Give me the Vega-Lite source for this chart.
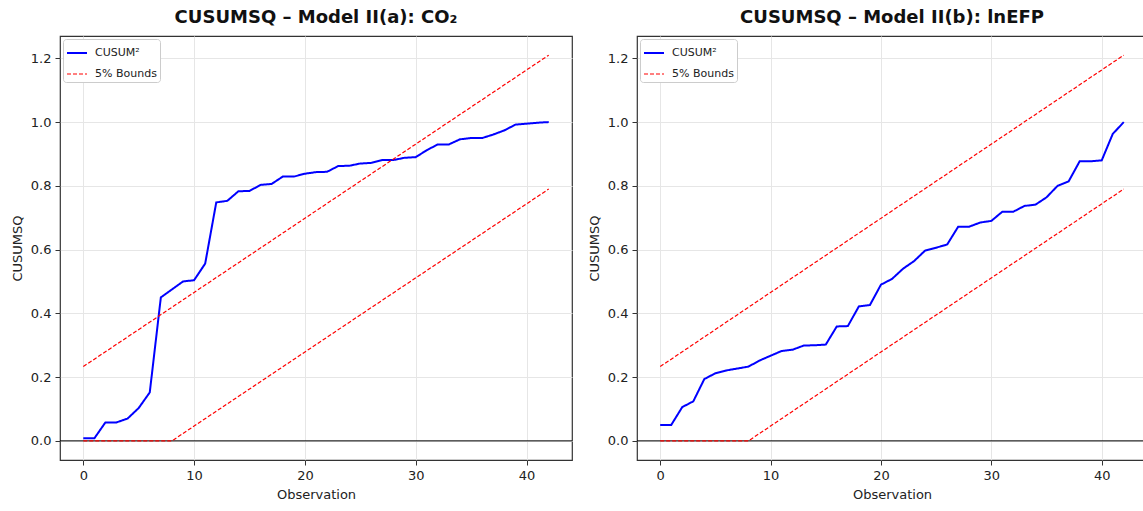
{
  "$schema": "https://vega.github.io/schema/vega-lite/v6.json",
  "background": "white",
  "padding": {"left": 10, "top": 8, "right": 0, "bottom": 0},
  "spacing": 13,
  "config": {
    "font": "DejaVu Sans",
    "view": {"stroke": "#333333", "strokeWidth": 1.2},
    "axis": {
      "labelFont": "DejaVu Sans", "labelFontSize": 13, "labelColor": "#222222",
      "titleFont": "DejaVu Sans", "titleFontSize": 13, "titleFontWeight": "normal", "titleColor": "#222222",
      "gridColor": "#e6e6e6", "gridWidth": 1, "domain": false,
      "tickColor": "#333333", "tickSize": 5, "labelPadding": 4, "titlePadding": 6
    },
    "title": {"font": "DejaVu Sans", "fontSize": 18, "fontWeight": "bold", "color": "#111111", "anchor": "middle", "offset": 9},
    "legend": {
      "orient": "top-left", "offset": 3, "title": null,
      "labelFont": "DejaVu Sans", "labelFontSize": 11, "labelColor": "#222222",
      "fillColor": "white", "strokeColor": "#cccccc", "cornerRadius": 3, "padding": 3,
      "symbolType": "stroke", "symbolSize": 400, "rowPadding": 5, "labelOffset": 7
    }
  },
  "datasets": {
    "a": [
      {"series": "CUSUM²", "part": "c", "x": 0, "y": 0.008},
      {"series": "CUSUM²", "part": "c", "x": 1, "y": 0.008},
      {"series": "CUSUM²", "part": "c", "x": 2, "y": 0.058},
      {"series": "CUSUM²", "part": "c", "x": 3, "y": 0.058},
      {"series": "CUSUM²", "part": "c", "x": 4, "y": 0.070},
      {"series": "CUSUM²", "part": "c", "x": 5, "y": 0.103},
      {"series": "CUSUM²", "part": "c", "x": 6, "y": 0.152},
      {"series": "CUSUM²", "part": "c", "x": 7, "y": 0.450},
      {"series": "CUSUM²", "part": "c", "x": 8, "y": 0.475},
      {"series": "CUSUM²", "part": "c", "x": 9, "y": 0.500},
      {"series": "CUSUM²", "part": "c", "x": 10, "y": 0.504},
      {"series": "CUSUM²", "part": "c", "x": 11, "y": 0.556},
      {"series": "CUSUM²", "part": "c", "x": 12, "y": 0.748},
      {"series": "CUSUM²", "part": "c", "x": 13, "y": 0.753},
      {"series": "CUSUM²", "part": "c", "x": 14, "y": 0.783},
      {"series": "CUSUM²", "part": "c", "x": 15, "y": 0.784},
      {"series": "CUSUM²", "part": "c", "x": 16, "y": 0.803},
      {"series": "CUSUM²", "part": "c", "x": 17, "y": 0.806},
      {"series": "CUSUM²", "part": "c", "x": 18, "y": 0.829},
      {"series": "CUSUM²", "part": "c", "x": 19, "y": 0.829},
      {"series": "CUSUM²", "part": "c", "x": 20, "y": 0.838},
      {"series": "CUSUM²", "part": "c", "x": 21, "y": 0.843},
      {"series": "CUSUM²", "part": "c", "x": 22, "y": 0.844},
      {"series": "CUSUM²", "part": "c", "x": 23, "y": 0.862},
      {"series": "CUSUM²", "part": "c", "x": 24, "y": 0.863},
      {"series": "CUSUM²", "part": "c", "x": 25, "y": 0.870},
      {"series": "CUSUM²", "part": "c", "x": 26, "y": 0.872},
      {"series": "CUSUM²", "part": "c", "x": 27, "y": 0.881},
      {"series": "CUSUM²", "part": "c", "x": 28, "y": 0.881},
      {"series": "CUSUM²", "part": "c", "x": 29, "y": 0.888},
      {"series": "CUSUM²", "part": "c", "x": 30, "y": 0.890},
      {"series": "CUSUM²", "part": "c", "x": 31, "y": 0.912},
      {"series": "CUSUM²", "part": "c", "x": 32, "y": 0.930},
      {"series": "CUSUM²", "part": "c", "x": 33, "y": 0.930},
      {"series": "CUSUM²", "part": "c", "x": 34, "y": 0.946},
      {"series": "CUSUM²", "part": "c", "x": 35, "y": 0.950},
      {"series": "CUSUM²", "part": "c", "x": 36, "y": 0.950},
      {"series": "CUSUM²", "part": "c", "x": 37, "y": 0.961},
      {"series": "CUSUM²", "part": "c", "x": 38, "y": 0.974},
      {"series": "CUSUM²", "part": "c", "x": 39, "y": 0.992},
      {"series": "CUSUM²", "part": "c", "x": 40, "y": 0.995},
      {"series": "CUSUM²", "part": "c", "x": 41, "y": 0.998},
      {"series": "CUSUM²", "part": "c", "x": 42, "y": 1.000},
      {"series": "5% Bounds", "part": "upper", "x": 0, "y": 0.233},
      {"series": "5% Bounds", "part": "upper", "x": 42, "y": 1.210},
      {"series": "5% Bounds", "part": "lower", "x": 0, "y": 0.0},
      {"series": "5% Bounds", "part": "lower", "x": 8, "y": 0.0},
      {"series": "5% Bounds", "part": "lower", "x": 42, "y": 0.790}
    ],
    "b": [
      {"series": "CUSUM²", "part": "c", "x": 0, "y": 0.050},
      {"series": "CUSUM²", "part": "c", "x": 1, "y": 0.050},
      {"series": "CUSUM²", "part": "c", "x": 2, "y": 0.106},
      {"series": "CUSUM²", "part": "c", "x": 3, "y": 0.124},
      {"series": "CUSUM²", "part": "c", "x": 4, "y": 0.194},
      {"series": "CUSUM²", "part": "c", "x": 5, "y": 0.212},
      {"series": "CUSUM²", "part": "c", "x": 6, "y": 0.221},
      {"series": "CUSUM²", "part": "c", "x": 7, "y": 0.227},
      {"series": "CUSUM²", "part": "c", "x": 8, "y": 0.233},
      {"series": "CUSUM²", "part": "c", "x": 9, "y": 0.252},
      {"series": "CUSUM²", "part": "c", "x": 10, "y": 0.267},
      {"series": "CUSUM²", "part": "c", "x": 11, "y": 0.282},
      {"series": "CUSUM²", "part": "c", "x": 12, "y": 0.286},
      {"series": "CUSUM²", "part": "c", "x": 13, "y": 0.299},
      {"series": "CUSUM²", "part": "c", "x": 14, "y": 0.300},
      {"series": "CUSUM²", "part": "c", "x": 15, "y": 0.302},
      {"series": "CUSUM²", "part": "c", "x": 16, "y": 0.359},
      {"series": "CUSUM²", "part": "c", "x": 17, "y": 0.360},
      {"series": "CUSUM²", "part": "c", "x": 18, "y": 0.422},
      {"series": "CUSUM²", "part": "c", "x": 19, "y": 0.426},
      {"series": "CUSUM²", "part": "c", "x": 20, "y": 0.490},
      {"series": "CUSUM²", "part": "c", "x": 21, "y": 0.508},
      {"series": "CUSUM²", "part": "c", "x": 22, "y": 0.540},
      {"series": "CUSUM²", "part": "c", "x": 23, "y": 0.564},
      {"series": "CUSUM²", "part": "c", "x": 24, "y": 0.597},
      {"series": "CUSUM²", "part": "c", "x": 25, "y": 0.606},
      {"series": "CUSUM²", "part": "c", "x": 26, "y": 0.616},
      {"series": "CUSUM²", "part": "c", "x": 27, "y": 0.672},
      {"series": "CUSUM²", "part": "c", "x": 28, "y": 0.672},
      {"series": "CUSUM²", "part": "c", "x": 29, "y": 0.685},
      {"series": "CUSUM²", "part": "c", "x": 30, "y": 0.690},
      {"series": "CUSUM²", "part": "c", "x": 31, "y": 0.719},
      {"series": "CUSUM²", "part": "c", "x": 32, "y": 0.719},
      {"series": "CUSUM²", "part": "c", "x": 33, "y": 0.737},
      {"series": "CUSUM²", "part": "c", "x": 34, "y": 0.741},
      {"series": "CUSUM²", "part": "c", "x": 35, "y": 0.764},
      {"series": "CUSUM²", "part": "c", "x": 36, "y": 0.800},
      {"series": "CUSUM²", "part": "c", "x": 37, "y": 0.814},
      {"series": "CUSUM²", "part": "c", "x": 38, "y": 0.877},
      {"series": "CUSUM²", "part": "c", "x": 39, "y": 0.877},
      {"series": "CUSUM²", "part": "c", "x": 40, "y": 0.880},
      {"series": "CUSUM²", "part": "c", "x": 41, "y": 0.963},
      {"series": "CUSUM²", "part": "c", "x": 42, "y": 1.000},
      {"series": "5% Bounds", "part": "upper", "x": 0, "y": 0.233},
      {"series": "5% Bounds", "part": "upper", "x": 42, "y": 1.210},
      {"series": "5% Bounds", "part": "lower", "x": 0, "y": 0.0},
      {"series": "5% Bounds", "part": "lower", "x": 8, "y": 0.0},
      {"series": "5% Bounds", "part": "lower", "x": 42, "y": 0.790}
    ],
    "zero": [{"z": 0}]
  },
  "hconcat": [
    {
      "width": 512, "height": 424,
      "title": {"text": "CUSUMSQ – Model II(a): CO₂"},
      "layer": [
        {
          "data": {"name": "zero"},
          "mark": {"type": "rule", "color": "black", "strokeWidth": 1},
          "encoding": {"y": {"field": "z", "type": "quantitative", "scale": {"domain": [-0.06, 1.27], "nice": false, "zero": false}}}
        },
        {
          "data": {"name": "a"},
          "mark": {"type": "line", "clip": true},
          "encoding": {
            "x": {"field": "x", "type": "quantitative", "title": "Observation",
                  "scale": {"domain": [-2.1, 44.1], "nice": false, "zero": false},
                  "axis": {"values": [0, 10, 20, 30, 40], "format": "d"}},
            "y": {"field": "y", "type": "quantitative", "title": "CUSUMSQ",
                  "scale": {"domain": [-0.06, 1.27], "nice": false, "zero": false},
                  "axis": {"values": [0, 0.2, 0.4, 0.6, 0.8, 1.0, 1.2], "format": ".1f"}},
            "detail": {"field": "part"},
            "color": {"field": "series", "type": "nominal", "scale": {"domain": ["CUSUM²", "5% Bounds"], "range": ["#0000ff", "#ff0000"]}},
            "strokeDash": {"field": "series", "type": "nominal", "scale": {"domain": ["CUSUM²", "5% Bounds"], "range": [[1, 0], [4, 2]]}},
            "strokeWidth": {"field": "series", "type": "nominal", "scale": {"domain": ["CUSUM²", "5% Bounds"], "range": [2, 1.2]}}
          }
        }
      ]
    },
    {
      "width": 510, "height": 424,
      "title": {"text": "CUSUMSQ – Model II(b): lnEFP"},
      "layer": [
        {
          "data": {"name": "zero"},
          "mark": {"type": "rule", "color": "black", "strokeWidth": 1},
          "encoding": {"y": {"field": "z", "type": "quantitative", "scale": {"domain": [-0.06, 1.27], "nice": false, "zero": false}}}
        },
        {
          "data": {"name": "b"},
          "mark": {"type": "line", "clip": true},
          "encoding": {
            "x": {"field": "x", "type": "quantitative", "title": "Observation",
                  "scale": {"domain": [-2.1, 44.1], "nice": false, "zero": false},
                  "axis": {"values": [0, 10, 20, 30, 40], "format": "d"}},
            "y": {"field": "y", "type": "quantitative", "title": "CUSUMSQ",
                  "scale": {"domain": [-0.06, 1.27], "nice": false, "zero": false},
                  "axis": {"values": [0, 0.2, 0.4, 0.6, 0.8, 1.0, 1.2], "format": ".1f"}},
            "detail": {"field": "part"},
            "color": {"field": "series", "type": "nominal", "scale": {"domain": ["CUSUM²", "5% Bounds"], "range": ["#0000ff", "#ff0000"]}},
            "strokeDash": {"field": "series", "type": "nominal", "scale": {"domain": ["CUSUM²", "5% Bounds"], "range": [[1, 0], [4, 2]]}},
            "strokeWidth": {"field": "series", "type": "nominal", "scale": {"domain": ["CUSUM²", "5% Bounds"], "range": [2, 1.2]}}
          }
        }
      ]
    }
  ],
  "resolve": {"scale": {"color": "independent", "strokeDash": "independent", "strokeWidth": "independent"}, "legend": {"color": "independent", "strokeDash": "independent", "strokeWidth": "independent"}}
}
